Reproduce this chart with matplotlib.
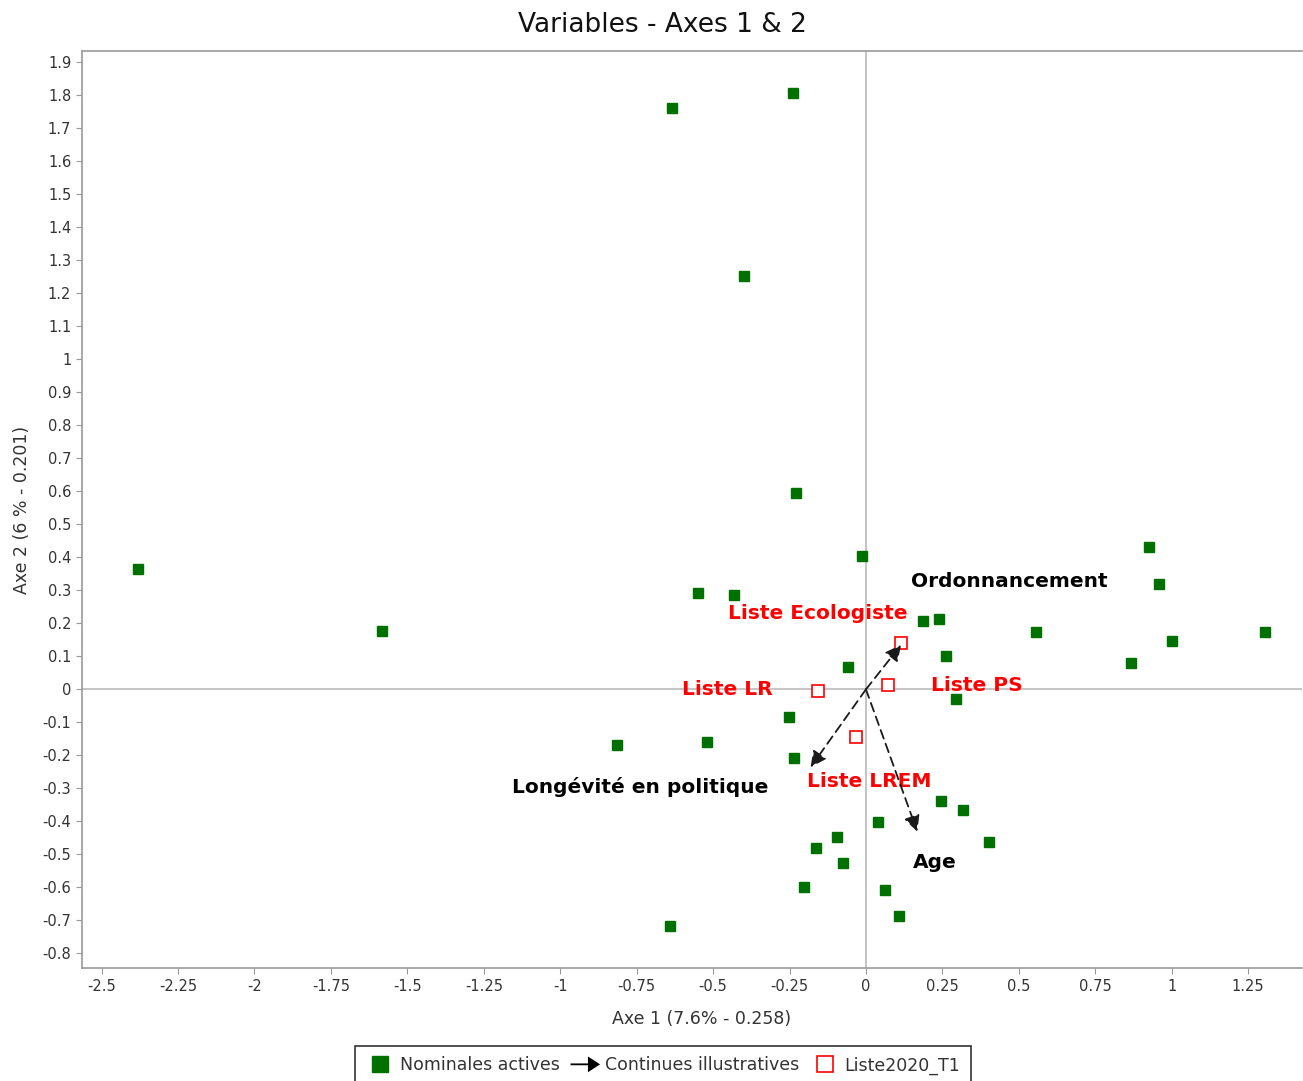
import numpy as np
import matplotlib.pyplot as plt
import matplotlib.patches as mpatches
from matplotlib.lines import Line2D
from matplotlib.legend_handler import HandlerPatch

plt.rcParams['font.family'] = ['DejaVu Sans']

# --- data ------------------------------------------------------------------
# nominal active modalities (green squares)
nom_x = [-2.380, -1.584, -0.635, -0.238, -0.399, -0.228, -0.014, -0.550, -0.431,
         -0.059, -0.253, -0.813, -0.521, -0.234, 0.040, -0.096, -0.163, -0.074,
         -0.203, 0.063, -0.642, 0.926, 0.958, 0.185, 0.239, 0.557, 1.304, 1.002,
         0.263, 0.868, 0.295, 0.245, 0.317, 0.401, 0.109]
nom_y = [0.364, 0.177, 1.762, 1.808, 1.252, 0.594, 0.404, 0.291, 0.286,
         0.068, -0.083, -0.169, -0.161, -0.207, -0.403, -0.448, -0.482, -0.525,
         -0.599, -0.608, -0.718, 0.432, 0.318, 0.207, 0.212, 0.175, 0.174, 0.146,
         0.100, 0.080, -0.030, -0.338, -0.366, -0.461, -0.688]

# illustrative modalities Liste2020_T1 (red hollow squares)
liste_names = ['Liste Ecologiste', 'Liste LR', 'Liste PS', 'Liste LREM']
liste_x = [0.113, -0.156, 0.071, -0.033]
liste_y = [0.139, -0.005, 0.012, -0.145]

# continuous illustrative variables (arrows)
var_names = ['Ordonnancement', 'Longévité en politique', 'Age']
var_x = [0.115, -0.181, 0.168]
var_y = [0.135, -0.236, -0.431]

x_ticks = [-2.5, -2.25, -2, -1.75, -1.5, -1.25, -1, -0.75, -0.5, -0.25,
           0, 0.25, 0.5, 0.75, 1, 1.25]
y_ticks = np.round(np.arange(-0.8, 1.95, 0.1), 1)

# label placement (offset pixels from the mark, alignment)
liste_lbl = [((7, 30), 'right'), ((-46, 2), 'right'), ((43, 0), 'left'), ((13, -44), 'center')]
var_lbl = [((10, 63), 'left'), ((-42, -20), 'right'), ((-4, -31), 'left')]

GREEN = '#007000'
RED = '#ff0000'
GRAY = '#9a9a9a'


def fmt(v):
    s = ('%.2f' % v).rstrip('0').rstrip('.')
    return '0' if s in ('-0', '0') else s


fig = plt.figure(figsize=(13.03, 10.81), dpi=100)
ax = fig.add_axes([0.0627, 0.1043, 0.9365, 0.8485])

ax.axhline(0, color='#b4b4b4', lw=1.1, zorder=1)
ax.axvline(0, color='#b4b4b4', lw=1.1, zorder=1)

ax.plot(nom_x, nom_y, 's', color=GREEN, markersize=7.2, mec=GREEN, zorder=3)
ax.plot(liste_x, liste_y, 's', mfc='white', mec=RED, mew=1.2, markersize=8, zorder=3)

for name, x, y, ((dx, dy), ha) in zip(liste_names, liste_x, liste_y, liste_lbl):
    ax.annotate(name, (x, y), xytext=(dx, dy), textcoords='offset pixels',
                ha=ha, va='center', color=RED, fontsize=14.5, fontweight='bold', zorder=4)

for name, x, y, ((dx, dy), ha) in zip(var_names, var_x, var_y, var_lbl):
    arr = mpatches.FancyArrowPatch((0, 0), (x, y), arrowstyle='-|>', mutation_scale=24,
                                   linestyle=(0, (5, 3)), lw=1.3, color='#1a1a1a',
                                   shrinkA=0, shrinkB=0, zorder=4)
    ax.add_patch(arr)
    ax.annotate(name, (x, y), xytext=(dx, dy), textcoords='offset pixels',
                ha=ha, va='center', color='black', fontsize=14.5, fontweight='bold', zorder=4)

ax.set_xlim(-2.565, 1.426)
ax.set_ylim(-0.845, 1.934)
ax.set_xticks(x_ticks)
ax.set_xticklabels([fmt(v) for v in x_ticks])
ax.set_yticks(y_ticks)
ax.set_yticklabels([fmt(v) for v in y_ticks])
ax.tick_params(direction='out', length=4, color=GRAY, labelcolor='#333333', labelsize=10.5)
for side in ['left', 'bottom', 'top']:
    ax.spines[side].set_color(GRAY)
    ax.spines[side].set_linewidth(1.2)
ax.spines['right'].set_visible(False)

ax.set_xlabel('Axe 1 (7.6% - 0.258)', fontsize=12.5, color='#333333')
ax.xaxis.set_label_coords(0.508, -0.045)
ax.set_ylabel('Axe 2 (6 % - 0.201)', fontsize=12.5, color='#333333', labelpad=8)

fig.text(662 / 1303, 1 - 25 / 1081, 'Variables - Axes 1 & 2', ha='center', va='center',
         fontsize=19, color='#111111')


# legend with an arrow handle
def make_legend_arrow(legend, orig_handle, xdescent, ydescent, width, height, fontsize):
    return mpatches.FancyArrow(0, 0.5 * height, width, 0, length_includes_head=True,
                               width=0.15 * height, head_width=1.3 * height,
                               head_length=1.0 * height)


h_nom = Line2D([], [], marker='s', ls='none', color=GREEN, markersize=12)
h_arr = mpatches.FancyArrow(0, 0, 1, 0, color='black', lw=0)
h_lst = Line2D([], [], marker='s', ls='none', mfc='white', mec=RED, mew=1.2, markersize=12)
leg = fig.legend([h_nom, h_arr, h_lst],
                 ['Nominales actives', 'Continues illustratives', 'Liste2020_T1'],
                 loc='upper center', bbox_to_anchor=(663 / 1303, 1 - 1046 / 1081),
                 ncol=3, fontsize=12.5, frameon=True, fancybox=False, edgecolor='black',
                 handlelength=1.7, handletextpad=0.3, columnspacing=0.6, borderpad=0.6,
                 borderaxespad=0,
                 handler_map={mpatches.FancyArrow: HandlerPatch(patch_func=make_legend_arrow)})
leg.get_frame().set_linewidth(1.2)
for t in leg.get_texts():
    t.set_color('#333333')

fig.savefig('out.png', dpi=100)
